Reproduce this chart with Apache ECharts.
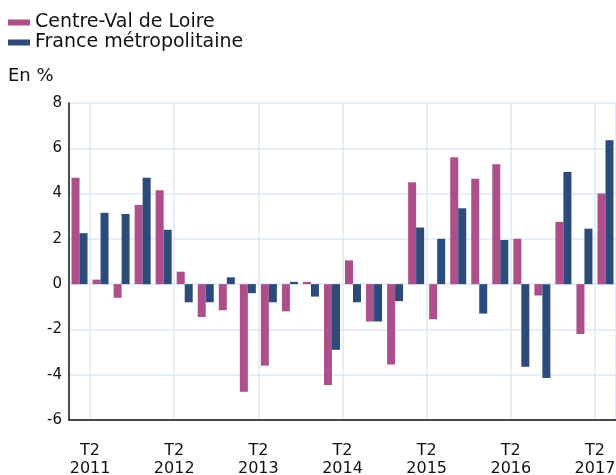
<!DOCTYPE html>
<html>
<head>
<meta charset="utf-8">
<script src="https://cdn.jsdelivr.net/npm/echarts@6/dist/echarts.min.js"></script>
<style>
  html, body { margin: 0; padding: 0; background: #fff; }
  #chart { width: 616px; height: 475px; }
</style>
</head>
<body>
<div id="chart"></div>
<script>
  // quarters T1 2011 .. T2 2017
  const quarters = [
    'T1 2011', 'T2 2011', 'T3 2011', 'T4 2011',
    'T1 2012', 'T2 2012', 'T3 2012', 'T4 2012',
    'T1 2013', 'T2 2013', 'T3 2013', 'T4 2013',
    'T1 2014', 'T2 2014', 'T3 2014', 'T4 2014',
    'T1 2015', 'T2 2015', 'T3 2015', 'T4 2015',
    'T1 2016', 'T2 2016', 'T3 2016', 'T4 2016',
    'T1 2017', 'T2 2017'
  ];
  const centreValDeLoire = [
    4.7, 0.2, -0.6, 3.5,
    4.15, 0.55, -1.45, -1.15,
    -4.75, -3.6, -1.2, 0.1,
    -4.45, 1.05, -1.65, -3.55,
    4.5, -1.55, 5.6, 4.65,
    5.3, 2.0, -0.5, 2.75,
    -2.2, 4.0
  ];
  const franceMetro = [
    2.25, 3.15, 3.1, 4.7,
    2.4, -0.8, -0.8, 0.3,
    -0.4, -0.8, 0.1, -0.55,
    -2.9, -0.8, -1.65, -0.75,
    2.5, 2.0, 3.35, -1.3,
    1.95, -3.65, -4.15, 4.95,
    2.45, 6.35
  ];
  const yTicks = { min: -6, max: 8, step: 2 };

  const pink = '#ad4f8a';
  const blue = '#2c4a7a';
  const gridColor = '#dde8f7';
  const font = 'DejaVu Sans';

  const chart = echarts.init(document.getElementById('chart'));

  chart.setOption({
    animation: false,
    title: {
      text: 'En %',
      left: 3,
      top: 62,
      textStyle: { fontFamily: font, fontSize: 18, fontWeight: 'normal', color: '#111' }
    },
    legend: {
      orient: 'vertical',
      left: 3,
      top: 8,
      itemWidth: 22,
      itemHeight: 6,
      itemGap: 1,
      icon: 'rect',
      textStyle: { fontFamily: font, fontSize: 19, color: '#111' },
      data: ['Centre-Val de Loire', 'France métropolitaine']
    },
    grid: { left: 69, right: 0, top: 103, bottom: 55, outerBoundsMode: 'none' },
    xAxis: {
      type: 'category',
      data: quarters,
      boundaryGap: true,
      axisLine: { onZero: false, lineStyle: { color: '#111', width: 1.5 } },
      axisTick: { show: false },
      splitLine: {
        show: true,
        interval: (i) => i % 4 === 1,
        lineStyle: { color: gridColor, width: 1.5 }
      },
      axisLabel: {
        interval: (i) => i % 4 === 1,
        formatter: (v) => v.replace(' ', '\n'),
        fontFamily: font,
        fontSize: 16,
        lineHeight: 18,
        color: '#111',
        margin: 22,
        align: 'center',
        padding: [0, 21, 0, 0]
      }
    },
    yAxis: {
      type: 'value',
      min: yTicks.min,
      max: yTicks.max,
      interval: yTicks.step,
      axisLine: { show: true, lineStyle: { color: '#111', width: 1.5 } },
      axisTick: { show: false },
      splitLine: { lineStyle: { color: gridColor, width: 1.5 } },
      axisLabel: { fontFamily: font, fontSize: 15, color: '#111', margin: 7 }
    },
    series: [
      {
        name: 'Centre-Val de Loire',
        type: 'bar',
        data: centreValDeLoire,
        barWidth: 8,
        barGap: '0%',
        itemStyle: { color: pink }
      },
      {
        name: 'France métropolitaine',
        type: 'bar',
        data: franceMetro,
        barWidth: 8,
        itemStyle: { color: blue }
      }
    ]
  });
</script>
</body>
</html>
